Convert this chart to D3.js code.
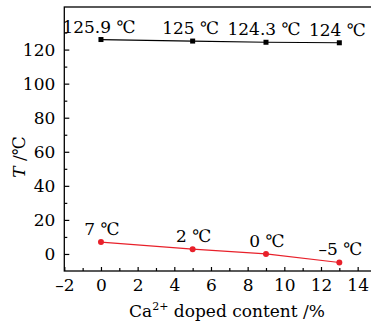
<!DOCTYPE html>
<html><head><meta charset="utf-8">
<script src="https://cdn.jsdelivr.net/npm/d3@7"></script>
<style>
body{margin:0;background:#fff;}
</style></head>
<body><svg id="c" width="371" height="322"></svg>
<script>
const content = [0, 5, 9, 13];
const curieT = [125.9, 125, 124.3, 124];
const curieLabels = ["125.9 ℃", "125 ℃", "124.3 ℃", "124 ℃"];
const lowT = [7, 2.8, 0, -5];
const lowLabels = ["7 ℃", "2 ℃", "0 ℃", "–5 ℃"];
const xTicks = [-2, 0, 2, 4, 6, 8, 10, 12, 14];
const yTicks = [0, 20, 40, 60, 80, 100, 120];

const FONT = "DejaVu Serif";
const FS = 17;
const svg = d3.select("#c").attr("font-family", FONT);
const mL = 64.3, mR = 376, mT = 7, mB = 271;
const x = d3.scaleLinear().domain([-2, 15]).range([mL, mR]);
const y = d3.scaleLinear().domain([-10, 145]).range([mB, mT]);

svg.append("rect").attr("x", mL).attr("y", mT).attr("width", mR-mL).attr("height", mB-mT)
  .attr("fill", "none").attr("stroke", "#000").attr("stroke-width", 1.3);

const fmt = d => d < 0 ? "–" + Math.abs(d) : String(d);

const gx = svg.append("g").attr("transform", `translate(0,${mB})`);
gx.call(d3.axisBottom(x).tickValues(xTicks).tickSizeInner(-4).tickSizeOuter(0).tickPadding(8).tickFormat(fmt));
const gxm = svg.append("g").attr("transform", `translate(0,${mB})`);
gxm.call(d3.axisBottom(x).tickValues(d3.range(-1, 15, 2)).tickSizeInner(-3).tickSizeOuter(0).tickFormat(""));
const gy = svg.append("g").attr("transform", `translate(${mL},0)`);
gy.call(d3.axisLeft(y).tickValues(yTicks).tickSizeInner(-5).tickSizeOuter(0).tickPadding(9).tickFormat(fmt));
const gym = svg.append("g").attr("transform", `translate(${mL},0)`);
gym.call(d3.axisLeft(y).tickValues(d3.range(10, 140, 20)).tickSizeInner(-3).tickSizeOuter(0).tickFormat(""));

svg.selectAll("g").attr("font-family", FONT);
svg.selectAll(".domain").remove();
svg.selectAll(".tick line").attr("stroke", "#000").attr("stroke-width", 1.2);
svg.selectAll(".tick text").attr("font-size", FS).attr("fill", "#000");
gx.selectAll(".tick text").attr("dy", "0.71em");

const line = (vals) => d3.line().x((d, i) => x(content[i])).y(d => y(d))(vals);
svg.append("path").attr("d", line(curieT)).attr("fill", "none").attr("stroke", "#000").attr("stroke-width", 1.2);
svg.selectAll(".sq").data(curieT).join("rect")
  .attr("x", (d, i) => x(content[i]) - 2.5).attr("y", d => y(d) - 2.5)
  .attr("width", 5).attr("height", 5).attr("fill", "#000");
svg.selectAll(".bl").data(curieLabels).join("text")
  .attr("x", (d, i) => x(content[i]) - 2).attr("y", (d, i) => y(curieT[i]) - 7)
  .attr("text-anchor", "middle").attr("font-size", FS).attr("fill", "#000").text(d => d);

svg.append("path").attr("d", line(lowT)).attr("fill", "none").attr("stroke", "#e8202a").attr("stroke-width", 1.2);
svg.selectAll(".dot").data(lowT).join("circle")
  .attr("cx", (d, i) => x(content[i])).attr("cy", d => y(d)).attr("r", 3).attr("fill", "#e8202a");
svg.selectAll(".rl").data(lowLabels).join("text")
  .attr("x", (d, i) => x(content[i]) + 1).attr("y", (d, i) => y(lowT[i]) - 7)
  .attr("text-anchor", "middle").attr("font-size", FS).attr("fill", "#000").text(d => d);

const xt = svg.append("text").attr("x", 227).attr("y", 317).attr("text-anchor", "middle")
  .attr("font-size", FS).attr("fill", "#000");
xt.append("tspan").text("Ca");
xt.append("tspan").attr("font-size", 11).attr("dy", -7).text("2+");
xt.append("tspan").attr("dy", 7).text(" doped content /%");

const yt = svg.append("text").attr("transform", "translate(25,157) rotate(-90)").attr("text-anchor", "middle")
  .attr("font-size", FS).attr("fill", "#000");
yt.append("tspan").attr("font-style", "italic").text("T");
yt.append("tspan").text(" /℃");
</script></body></html>
